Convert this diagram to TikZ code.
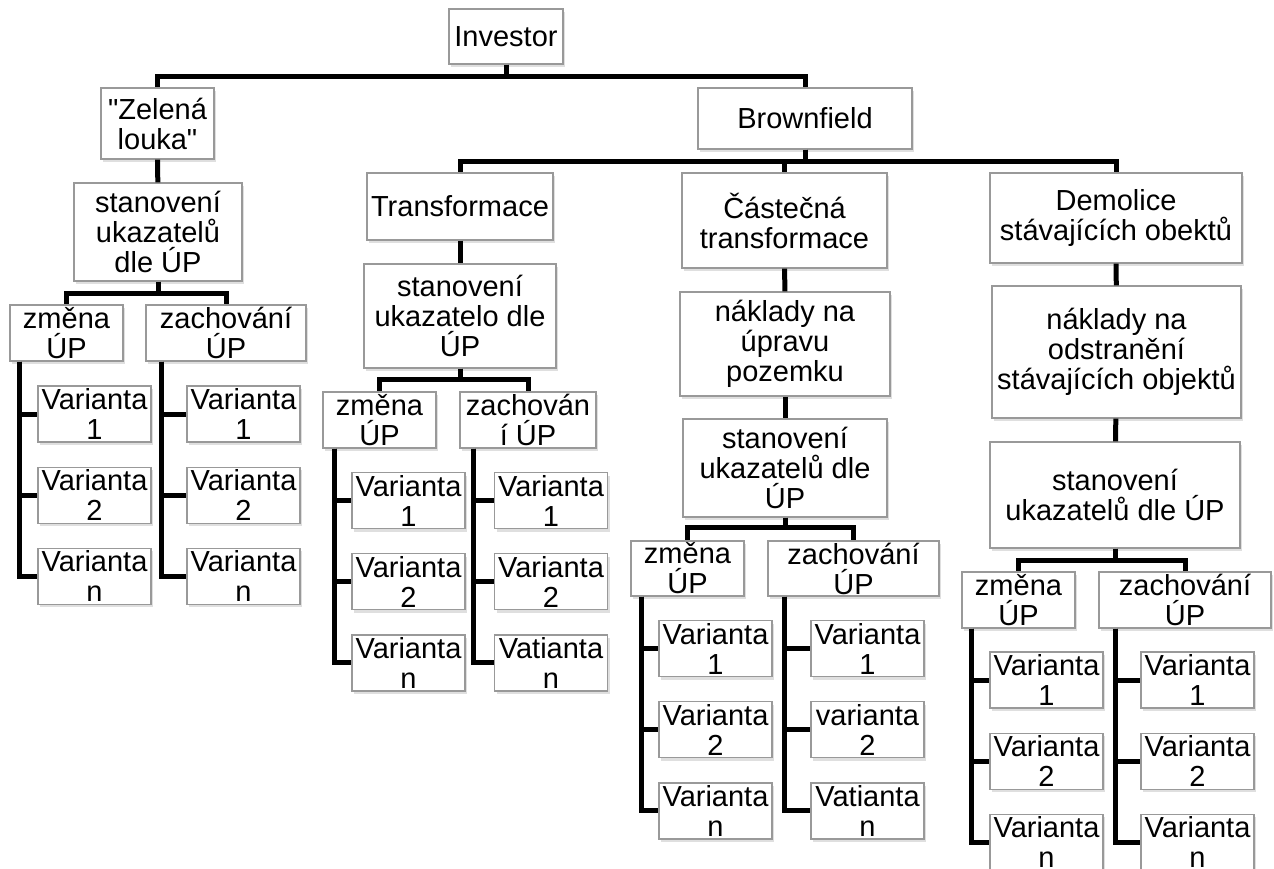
\documentclass[tikz,border=0pt]{standalone}
\usepackage{fontspec}
\setmainfont{Liberation Sans}[Ligatures=TeXOff]
\usetikzlibrary{positioning,shadows}
\definecolor{boxLine}{HTML}{999999}

\begin{document}
\begin{tikzpicture}[x=1pt,y=-1pt,font=\fontsize{29}{30}\selectfont,
        box/.style={draw=boxLine,line width=1.2pt,fill=white,inner sep=0pt,align=center,
                    drop shadow={opacity=0.25,shadow xshift=2pt,shadow yshift=-3pt}},
        var/.style={box,minimum width=113pt,minimum height=56pt},
        link/.style={line width=5pt,black}]
        \useasboundingbox (0,0) rectangle (1274,868);
        \node[box,minimum width=114pt,minimum height=55pt] (inv) at (506,36.5) {Investor};
        \node[box,minimum width=113pt,minimum height=71pt] (zel) at (157.5,123.5) {"Zelená\\louka"};
        \node[box,minimum width=214pt,minimum height=61pt] (brf) at (805,118.5) {Brownfield};
        \node[box,minimum width=168pt,minimum height=98pt] (stL) at (158,232) {stanovení\\ukazatelů\\dle ÚP};
        \node[box,minimum width=113pt,minimum height=56pt] (zmL) at (66.5,333) {změna\\ÚP};
        \node[box,minimum width=160pt,minimum height=56pt] (zaL) at (226,333) {zachování\\ÚP};
        \node[box,minimum width=186pt,minimum height=67pt] (tra) at (460,206.5) {Transformace};
        \node[box,minimum width=192pt,minimum height=104pt] (stT) at (460,316) {stanovení\\ukazatelo dle\\ÚP};
        \node[box,minimum width=113pt,minimum height=56pt] (zmT) at (379.5,420) {změna\\ÚP};
        \node[box,minimum width=136pt,minimum height=56pt] (zaT) at (528,420) {zachován\\í ÚP};
        \node[box,minimum width=205pt,minimum height=95pt] (cas) at (784.5,220.5) {Částečná\\transformace};
        \node[box,minimum width=210pt,minimum height=104pt] (nkC) at (785,344) {náklady na\\úpravu\\pozemku};
        \node[box,minimum width=204pt,minimum height=98pt] (stC) at (785,468) {stanovení\\ukazatelů dle\\ÚP};
        \node[box,minimum width=113pt,minimum height=55pt] (zmC) at (687.5,568.5) {změna\\ÚP};
        \node[box,minimum width=171pt,minimum height=55pt] (zaC) at (853.5,568.5) {zachování\\ÚP};
        \node[box,minimum width=252pt,minimum height=90pt] (dem) at (1116,218) {Demolice\\stávajících obektů};
        \node[box,minimum width=249pt,minimum height=132pt] (nkD) at (1116.5,352) {náklady na\\odstranění\\stávajících objektů};
        \node[box,minimum width=250pt,minimum height=106pt] (stD) at (1115,495) {stanovení\\ukazatelů dle ÚP};
        \node[box,minimum width=113pt,minimum height=56pt] (zmD) at (1018.5,600) {změna\\ÚP};
        \node[box,minimum width=172pt,minimum height=56pt] (zaD) at (1185,600) {zachování\\ÚP};

        \node[var] (La1) at (94.5,414) {Varianta\\1};
        \node[var,below=24pt of La1] (La2) {Varianta\\2};
        \node[var,below=24pt of La2] (La3) {Varianta\\n};
        \node[var] (Lb1) at (243.5,414) {Varianta\\1};
        \node[var,below=24pt of Lb1] (Lb2) {Varianta\\2};
        \node[var,below=24pt of Lb2] (Lb3) {Varianta\\n};
        \node[var] (Ta1) at (408.5,500.5) {Varianta\\1};
        \node[var,below=24pt of Ta1] (Ta2) {Varianta\\2};
        \node[var,below=24pt of Ta2] (Ta3) {Varianta\\n};
        \node[var] (Tb1) at (551,500.5) {Varianta\\1};
        \node[var,below=24pt of Tb1] (Tb2) {Varianta\\2};
        \node[var,below=24pt of Tb2] (Tb3) {Vatianta\\n};
        \node[var] (Ca1) at (715.5,648.5) {Varianta\\1};
        \node[var,below=24pt of Ca1] (Ca2) {Varianta\\2};
        \node[var,below=24pt of Ca2] (Ca3) {Varianta\\n};
        \node[var] (Cb1) at (867.5,648.5) {Varianta\\1};
        \node[var,below=24pt of Cb1] (Cb2) {varianta\\2};
        \node[var,below=24pt of Cb2] (Cb3) {Vatianta\\n};
        \node[var] (Da1) at (1046.5,680) {Varianta\\1};
        \node[var,below=24pt of Da1] (Da2) {Varianta\\2};
        \node[var,below=24pt of Da2] (Da3) {Varianta\\n};
        \node[var] (Db1) at (1197.5,680) {Varianta\\1};
        \node[var,below=24pt of Db1] (Db2) {Varianta\\2};
        \node[var,below=24pt of Db2] (Db3) {Varianta\\n};

        \draw[link] (inv.south) -- ++(0,12) -| (zel.north);
        \draw[link] (inv.south) -- ++(0,12) -| (brf.north);
        \draw[link] (zel) -- (stL);
        \draw[link] (stL.south) -- ++(0,12) -| (zmL.north);
        \draw[link] (stL.south) -- ++(0,12) -| (zaL.north);
        \draw[link] (brf.south) -- ++(0,12) -| (tra.north);
        \draw[link] (brf.south) -- ++(0,12) -| (cas.north);
        \draw[link] (brf.south) -- ++(0,12) -| (dem.north);
        \draw[link] (tra) -- (stT);
        \draw[link] (stT.south) -- ++(0,11) -| (zmT.north);
        \draw[link] (stT.south) -- ++(0,11) -| (zaT.north);
        \draw[link] (cas) -- (nkC);
        \draw[link] (nkC) -- (stC);
        \draw[link] (stC.south) -- ++(0,10) -| (zmC.north);
        \draw[link] (stC.south) -- ++(0,10) -| (zaC.north);
        \draw[link] (dem) -- (nkD);
        \draw[link] (nkD) -- (stD);
        \draw[link] (stD.south) -- ++(0,12) -| (zmD.north);
        \draw[link] (stD.south) -- ++(0,12) -| (zaD.north);
        \foreach \p/\v/\d in {zmL/La/18,zaL/Lb/25,zmT/Ta/17,zaT/Tb/20,
                              zmC/Ca/17,zaC/Cb/26,zmD/Da/18,zaD/Db/25}
          \foreach \k in {1,2,3}
            \draw[link] ([xshift=-\d]\v\k.west |- \p.south) |- (\v\k.west);
      \end{tikzpicture}
\end{document}
